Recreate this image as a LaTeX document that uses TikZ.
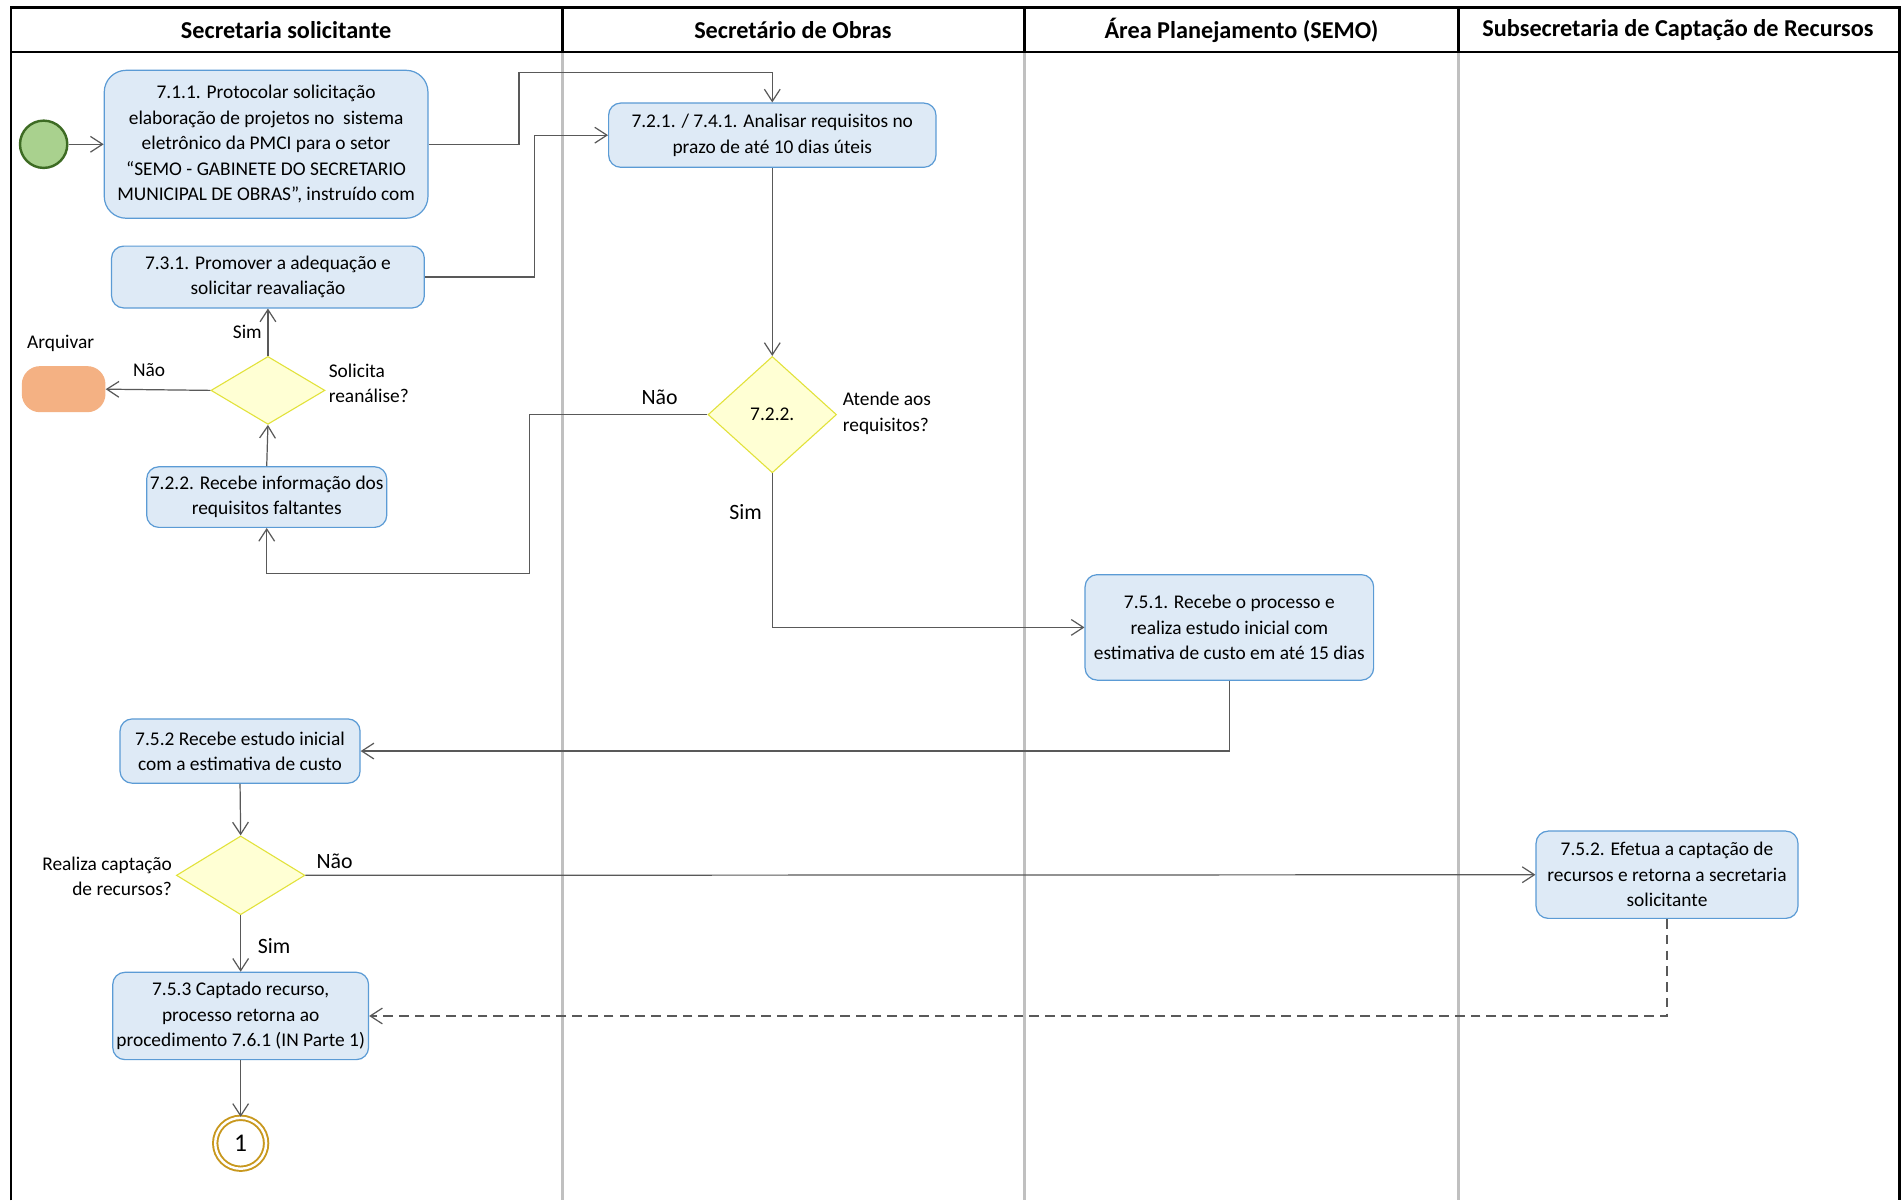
\documentclass[tikz,border=0pt]{standalone}
\usepackage{fontspec}
\setmainfont{Carlito}
\usetikzlibrary{arrows.meta,shapes.geometric}
\definecolor{boxfill}{HTML}{DEEAF6}
\definecolor{boxdraw}{HTML}{5B9BD5}
\definecolor{dfill}{HTML}{FFFFD4}
\definecolor{ddraw}{HTML}{E2E23A}
\definecolor{conn}{HTML}{595959}
\definecolor{lanegray}{HTML}{C0C0C0}
\definecolor{startfill}{HTML}{A9D18E}
\definecolor{startdraw}{HTML}{3D6B23}
\definecolor{endgold}{HTML}{C8981E}
\definecolor{arqfill}{HTML}{F4B183}
\tikzset{
  box/.style={draw=boxdraw, fill=boxfill, line width=1pt, rounded corners=10pt, align=center,
    inner sep=0pt, font=\fontsize{16}{21}\selectfont},
  dec/.style={diamond, draw=ddraw, fill=dfill, line width=0.9pt, inner sep=0pt,
    font=\fontsize{16}{21}\selectfont},
  arr/.style={draw=conn, line width=1pt, -{Straight Barb[length=10pt,width=13pt]}},
  lbl/.style={font=\fontsize{16}{21}\selectfont, inner sep=0pt},
  biglbl/.style={font=\fontsize{18}{21}\selectfont, inner sep=0pt},
  hdr/.style={font=\fontsize{20}{22}\selectfont\bfseries, inner sep=0pt}
}
\begin{document}
\begin{tikzpicture}[x=1pt,y=-1pt]
\useasboundingbox (0,0) rectangle (1568,990);
\fill[white] (0,0) rectangle (1568,990);
% lanes
\foreach \xx in {464,845,1203}{
  \draw[lanegray, line width=3pt] (\xx,43) -- (\xx,990);
  \draw[black, line width=2.2pt] (\xx,6) -- (\xx,43);
}
\draw[black, line width=2.2pt] (9,990) -- (9,6) -- (1566.5,6) -- (1566.5,990);
\draw[black, line width=2.2pt] (9,43) -- (1566.5,43);
\node[hdr] (h1) at (236,25) {Secretaria solicitante};
\node[hdr] (h2) at (654,25) {Secretário de Obras};
\node[hdr] (h3) at (1024,25) {Área Planejamento (SEMO)};
\node[hdr] (h4) at (1384,25) {Subsecretaria de Captação de Recursos};

% nodes
\node[circle, draw=startdraw, fill=startfill, line width=2pt, minimum size=39pt, inner sep=0pt] (start) at (36,119) {};
\node[box, rounded corners=18pt, minimum width=267pt, minimum height=122pt] (b711) at (219.5,119)
  {7.1.1. Protocolar solicitação\\elaboração de projetos no\ \ sistema\\eletrônico da PMCI para o setor\\“SEMO - GABINETE DO SECRETARIO\\MUNICIPAL DE OBRAS”, instruído com};
\node[box, minimum width=270pt, minimum height=53pt] (b721) at (637,111.5)
  {7.2.1. / 7.4.1. Analisar requisitos no\\prazo de até 10 dias úteis};
\node[box, minimum width=258pt, minimum height=51pt] (b731) at (221,228.5)
  {7.3.1. Promover a adequação e\\solicitar reavaliação};
\node[dec, minimum width=106pt, minimum height=96pt] (d722) at (637,342) {7.2.2.};
\node[box, minimum width=198pt, minimum height=50pt] (b722) at (220,410)
  {7.2.2. Recebe informação dos\\requisitos faltantes};
\node[dec, minimum width=94pt, minimum height=56pt] (dsol) at (221,322) {};
\node[draw=none, fill=arqfill, rounded corners=15pt, minimum width=69pt, minimum height=38pt, inner sep=0pt] (arq) at (52.5,321) {};
\node[box, minimum width=238pt, minimum height=87pt] (b751) at (1014,517.5)
  {7.5.1. Recebe o processo e\\realiza estudo inicial com\\estimativa de custo em até 15 dias};
\node[box, minimum width=198pt, minimum height=53pt] (b752) at (198,619.5)
  {7.5.2 Recebe estudo inicial\\com a estimativa de custo};
\node[dec, minimum width=106pt, minimum height=65pt] (dcap) at (198.5,722) {};
\node[box, minimum width=216pt, minimum height=72pt] (b7522) at (1375,721.5)
  {7.5.2. Efetua a captação de\\recursos e retorna a secretaria\\solicitante};
\node[box, minimum width=211pt, minimum height=72pt] (b753) at (198.5,838)
  {7.5.3 Captado recurso,\\processo retorna ao\\procedimento 7.6.1 (IN Parte 1)};
\node[circle, draw=endgold, double=white, double distance=2pt, line width=1.6pt, minimum size=42pt, inner sep=0pt,
  font=\fontsize{21}{22}\selectfont] (endc) at (198.5,943) {1};

% labels
\node[lbl] (larq) at (50,283) {Arquivar};
\node[lbl, anchor=west, align=left] (lsol) at (271,316) {Solicita\\reanálise?};
\node[lbl, anchor=west, align=left] (latende) at (695,341) {Atende aos\\requisitos?};
\node[lbl, anchor=east, align=right] (lcap) at (142,723) {Realiza captação\\de recursos?};
\node[lbl] (lsim1) at (204,274) {Sim};
\node[lbl] (lnao1) at (123,305) {Não};
\node[biglbl] (lnao2) at (544,328) {Não};
\node[biglbl] (lsim2) at (615,422) {Sim};
\node[biglbl] (lnao3) at (276,710) {Não};
\node[biglbl] (lsim3) at (226,780) {Sim};

% bend points
\coordinate (c1) at (428,60);
\coordinate (c2) at (441,111.5);
\coordinate (c3) at (437,473);

% connectors
\draw[arr] (start.east) -- (b711.west);
\draw[arr] (b711.east) -| (c1) -| (b721.north);
\draw[arr] (b731.east) -| (c2) -- (b721.west);
\draw[arr] (b721.south) -- (d722.north);
\draw[arr] (d722.west) -| (c3) -| (b722.south);
\draw[arr] (d722.south) |- (b751.west);
\draw[arr] (b722.north) -- (dsol.south);
\draw[arr] (dsol.north) -- (b731.south);
\draw[arr] (dsol.west) -- (arq.east);
\draw[arr] (b751.south) |- (b752.east);
\draw[arr] (b752.south) -- (dcap.north);
\draw[arr] (dcap.east) -- (b7522.west);
\draw[arr] (dcap.south) -- (b753.north);
\draw[arr, dash pattern=on 8pt off 5pt] (b7522.south) |- (b753.east);
\draw[arr] (b753.south) -- (endc.north);
\end{tikzpicture}
\end{document}
